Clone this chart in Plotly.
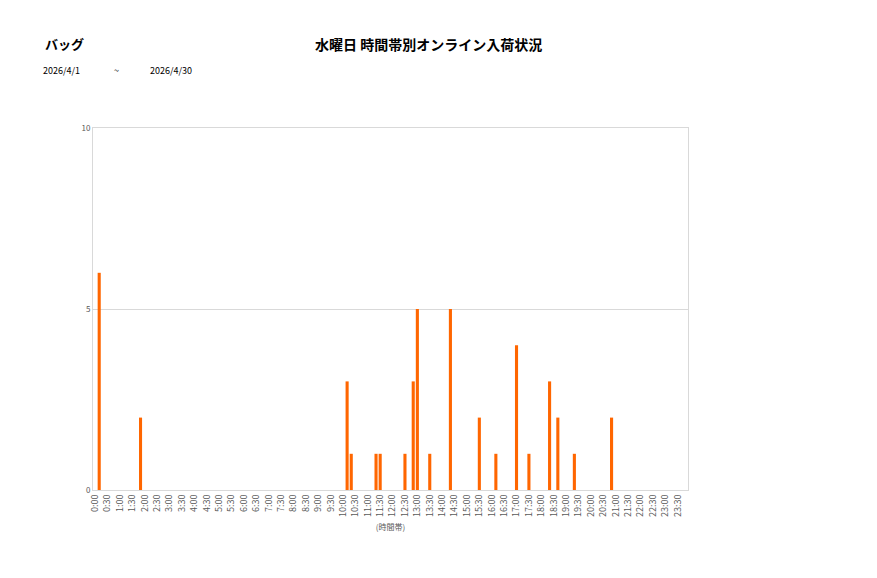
import plotly.graph_objects as go

# 10-minute time slots (x categories)
slots = [f"{h}:{m:02d}" for h in range(24) for m in range(0, 60, 10)]
tick_labels = [f"{h}:{m:02d}" for h in range(24) for m in (0, 30)]

# non-zero arrivals
bar_times = ["0:10", "1:50", "10:10", "10:20", "11:20", "11:30", "12:30", "12:50",
             "13:00", "13:30", "14:20", "15:30", "16:10", "17:00", "17:30",
             "18:20", "18:40", "19:20", "20:50"]
bar_counts = [6, 2, 3, 1, 1, 1, 1, 3, 5, 1, 5, 2, 1, 4, 1, 3, 2, 1, 2]

y_ticks = [0, 5, 10]

FONT = "Noto Sans CJK JP"

fig = go.Figure(go.Bar(x=bar_times, y=bar_counts, marker_color="#FF6600",
                       marker_line_width=0))

fig.update_layout(
    width=869, height=570,
    margin=dict(l=85, r=189, t=120, b=88),
    paper_bgcolor="white", plot_bgcolor="white",
    bargap=0.25,
    showlegend=False,
    font=dict(family=FONT, color="#404040"),
)
fig.update_xaxes(
    type="category", categoryorder="array", categoryarray=slots,
    range=[-0.5, len(slots) - 0.5],
    tickmode="array", tickvals=tick_labels, ticktext=tick_labels,
    tickangle=-90, tickfont=dict(size=9, color="#595959"),
    showgrid=False, showline=True, linecolor="#D9D9D9", mirror=True,
    ticks="", title=dict(text="(時間帯)", font=dict(size=8, color="#595959"), standoff=8),
)
fig.update_yaxes(
    range=[0, 10], tickvals=y_ticks, ticktext=[str(v) for v in y_ticks],
    tickfont=dict(size=8, color="#595959"),
    showgrid=True, gridcolor="#D9D9D9", gridwidth=1,
    showline=True, linecolor="#D9D9D9", mirror=True, ticks="", zeroline=False,
)

fig.add_annotation(text="<b>水曜日 時間帯別オンライン入荷状況</b>", xref="paper", yref="paper",
                   x=(428 - 93) / 595, y=1 + (128 - 44) / 362, showarrow=False,
                   font=dict(size=14, color="#000000", family=FONT), xanchor="center", yanchor="middle")
fig.add_annotation(text="<b>バッグ</b>", xref="paper", yref="paper",
                   x=(43 - 93) / 595, y=1 + (128 - 43) / 362, showarrow=False,
                   font=dict(size=13, color="#000000", family=FONT), xanchor="left", yanchor="middle")
for txt, xp in [("2026/4/1", 41), ("~", 112), ("2026/4/30", 148)]:
    fig.add_annotation(text=txt, xref="paper", yref="paper",
                       x=(xp - 93) / 595, y=1 + (128 - 70) / 362, showarrow=False,
                       font=dict(size=9, color="#000000", family=FONT), xanchor="left", yanchor="middle")

fig.write_html("out.html")
